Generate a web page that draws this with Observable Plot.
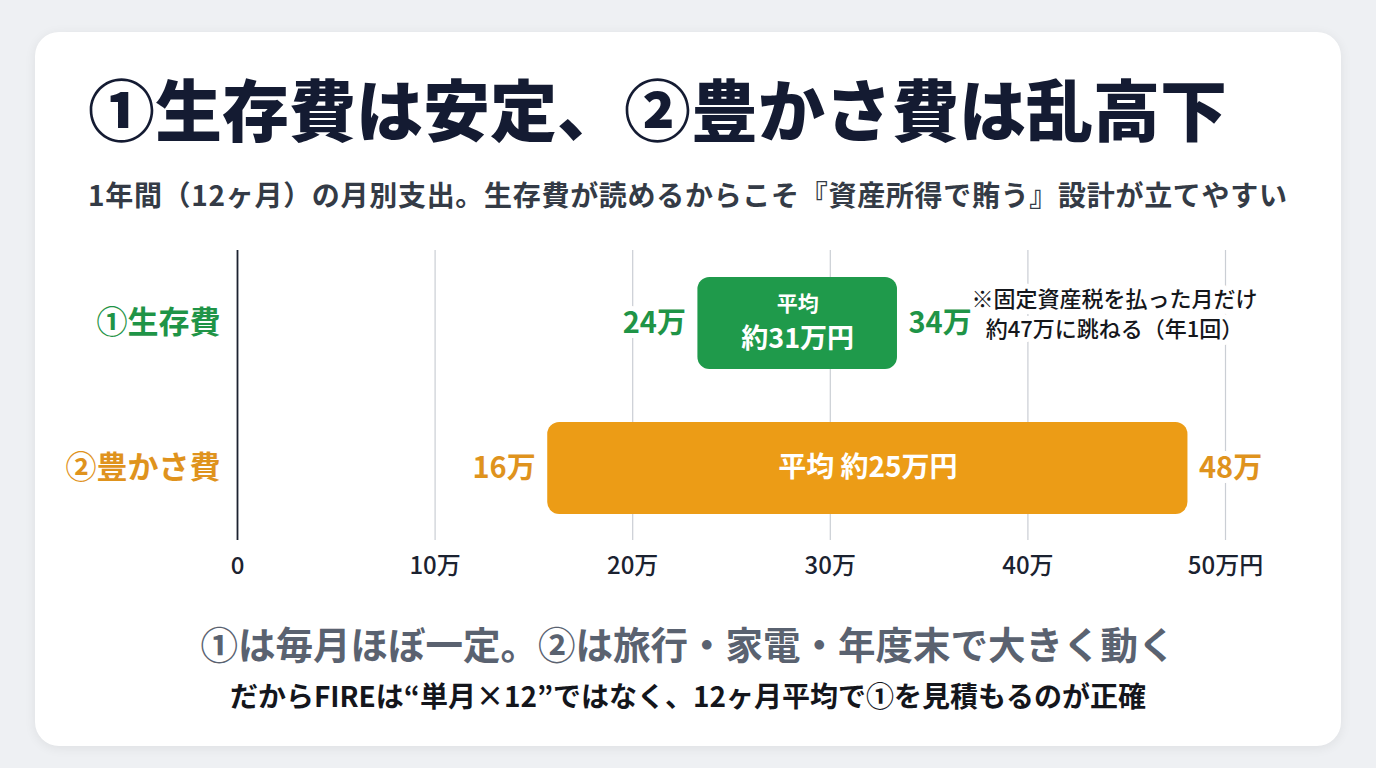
<!DOCTYPE html>
<html>
<head>
<meta charset="utf-8">
<script src="https://cdn.jsdelivr.net/npm/d3@7"></script>
<script src="https://cdn.jsdelivr.net/npm/@observablehq/plot@0.6"></script>
<style>
  html, body { margin: 0; padding: 0; }
  body { width: 1376px; height: 768px; background: #eef0f3; position: relative; overflow: hidden;
         font-family: "Noto Sans CJK JP", "Noto Sans", sans-serif; }
  #card { position: absolute; left: 35px; top: 32px; width: 1306px; height: 714px; background: #fff;
          border-radius: 24px; box-shadow: 0 2px 12px rgba(0,0,0,0.07); }
  .t { position: absolute; white-space: nowrap; line-height: 1; }
  #title { left: 88px; top: 73px; font-size: 67px; font-weight: 900; color: #141b32; }
  #subtitle { left: 88px; top: 180px; font-size: 28px; font-weight: 700; color: #343b46; letter-spacing: 0.7px; }
  #foot1 { left: 0; width: 1376px; text-align: center; top: 624px; font-size: 37.5px; font-weight: 700; color: #5a6270; }
  #foot2 { left: 0; width: 1376px; text-align: center; top: 681px; font-size: 28px; font-weight: 700; color: #14161c; }
  #chart { position: absolute; left: 0; top: 240px; }
</style>
</head>
<body>
<div id="card"></div>
<div class="t" id="title"></div>
<div class="t" id="subtitle"></div>
<div id="chart"></div>
<div class="t" id="foot1"></div>
<div class="t" id="foot2"></div>
<script>
const titleText = "①生存費は安定、②豊かさ費は乱高下";
const subtitleText = "1年間（12ヶ月）の月別支出。生存費が読めるからこそ『資産所得で賄う』設計が立てやすい";
const foot1Text = "①は毎月ほぼ一定。②は旅行・家電・年度末で大きく動く";
const foot2Text = "だからFIREは“単月×12”ではなく、12ヶ月平均で①を見積もるのが正確";

const categories = ["①生存費", "②豊かさ費"];
const lows = [23.3, 15.7];          // bar start (万円)
const highs = [33.4, 48.1];         // bar end (万円)
const lowLabels = ["24万", "16万"];
const highLabels = ["34万", "48万"];
const barColors = ["#1f9a4b", "#ec9c16"];
const textColors = ["#1f9447", "#df931d"];
const avgTop = ["平均", ""];
const avgBottom = ["約31万円", ""];
const avgSingle = ["", "平均 約25万円"];
const noteText = "※固定資産税を払った月だけ\n約47万に跳ねる（年1回）";
const xTicks = [0, 10, 20, 30, 40, 50];
const xTickLabels = ["0", "10万", "20万", "30万", "40万", "50万円"];

document.getElementById("title").textContent = titleText;
document.getElementById("subtitle").textContent = subtitleText;
document.getElementById("foot1").textContent = foot1Text;
document.getElementById("foot2").textContent = foot2Text;

const rows = categories.map((c, i) => ({
  cat: c, lo: lows[i], hi: highs[i], mid: (lows[i] + highs[i]) / 2,
  loLabel: lowLabels[i], hiLabel: highLabels[i],
  color: barColors[i], tcolor: textColors[i],
  top: avgTop[i], bottom: avgBottom[i], single: avgSingle[i]
}));

const chart = Plot.plot({
  width: 1376,
  height: 360,
  marginLeft: 237,
  marginRight: 151,
  marginTop: 10,
  marginBottom: 60,
  style: { fontFamily: "'Noto Sans CJK JP', sans-serif", background: "transparent", overflow: "visible" },
  x: { domain: [0, 50], ticks: xTicks },
  y: { domain: categories, paddingInner: 0.366, paddingOuter: 0.183, axis: null },
  color: { type: "identity" },
  marks: [
    Plot.gridX(xTicks.slice(1), { stroke: "#caced4", strokeOpacity: 1, strokeWidth: 1.2 }),
    Plot.ruleX([0], { stroke: "#1c2230", strokeWidth: 1.8 }),
    Plot.axisX(xTicks, {
      tickSize: 0, tickPadding: 16, fontSize: 24, fontWeight: 500, fill: "#1b2230",
      tickFormat: d => xTickLabels[xTicks.indexOf(d)]
    }),
    Plot.text(rows, { x: () => 0, y: "cat", text: "cat", dx: -17, textAnchor: "end",
      fill: "tcolor", fontSize: 31, fontWeight: 700 }),
    Plot.barX(rows, { x1: "lo", x2: "hi", y: "cat", fill: "color", rx: 12 }),
    Plot.text(rows, { x: "lo", y: "cat", text: "loLabel", dx: -12, textAnchor: "end",
      fill: "tcolor", stroke: "white", strokeWidth: 10, paintOrder: "stroke", fontSize: 29, fontWeight: 700 }),
    Plot.text(rows, { x: "hi", y: "cat", text: "hiLabel", dx: 11, textAnchor: "start",
      fill: "tcolor", stroke: "white", strokeWidth: 10, paintOrder: "stroke", fontSize: 29, fontWeight: 700 }),
    Plot.text(rows, { x: "mid", y: "cat", text: "top", dy: -19, fill: "white", fontSize: 21, fontWeight: 700 }),
    Plot.text(rows, { x: "mid", y: "cat", text: "bottom", dy: 16, fill: "white", fontSize: 27, fontWeight: 700 }),
    Plot.text(rows, { x: "mid", y: "cat", text: "single", fill: "white", fontSize: 28, fontWeight: 700 }),
    Plot.text([noteText], { x: () => highs[0], y: () => categories[0], text: d => d, dx: 217, dy: -11,
      textAnchor: "middle", lineHeight: 1.38, fill: "#15171c", stroke: "white", strokeWidth: 10,
      paintOrder: "stroke", fontSize: 22, fontWeight: 500 })
  ]
});
document.getElementById("chart").appendChild(chart);
</script>
</body>
</html>
